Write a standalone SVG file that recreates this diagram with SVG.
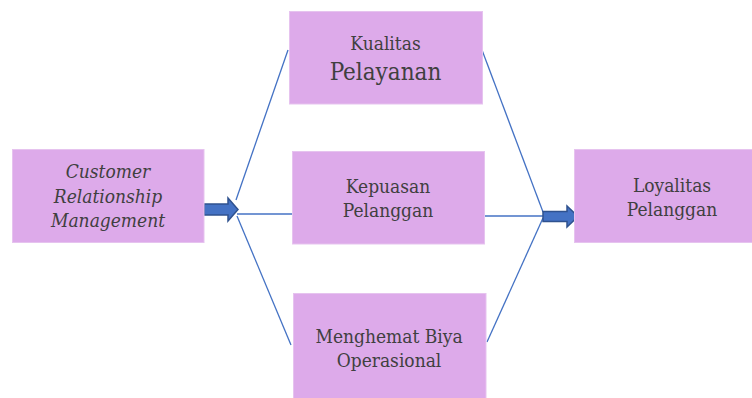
<svg xmlns="http://www.w3.org/2000/svg" width="752" height="398" viewBox="0 0 752 398">
<style>
.box{fill:#DDAAEA;stroke:#E6C3EF;stroke-width:1}
.t{font-family:'DejaVu Serif',serif;font-stretch:condensed;font-size:19px;fill:#404040;text-anchor:middle}
.i{font-style:italic}
.big{font-size:24px}
.ln{stroke:#4472C4;stroke-width:1.3;fill:none}
.arr{fill:#4472C4;stroke:#2F528F;stroke-width:1.5;stroke-linejoin:miter}
</style>
<rect width="752" height="398" fill="#FFFFFF"/>
<g id="connectors">
<line class="ln" x1="236" y1="200" x2="288" y2="50"/>
<line class="ln" x1="237" y1="214" x2="292" y2="214"/>
<line class="ln" x1="237" y1="216" x2="291" y2="345"/>
<line class="ln" x1="482" y1="50" x2="543" y2="212"/>
<line class="ln" x1="484" y1="216" x2="543" y2="216"/>
<line class="ln" x1="487" y1="342" x2="543" y2="218"/>
<polygon class="arr" points="204,204 228,204 228,198 238,209.5 228,221 228,215 204,215"/>
<polygon class="arr" points="543,211.5 567,211.5 567,206 578,216.5 567,227 567,221.5 543,221.5"/>
</g>
<g id="crm">
<rect class="box" x="12.5" y="149.5" width="191.5" height="93"/>
<text class="t i" x="108" y="178">Customer</text>
<text class="t i" x="108" y="203">Relationship</text>
<text class="t i" x="108" y="227">Management</text>
</g>
<g id="kualitas">
<rect class="box" x="289.5" y="11.5" width="193" height="92.5"/>
<text class="t" x="385.5" y="50">Kualitas</text>
<text class="t big" x="385.5" y="80">Pelayanan</text>
</g>
<g id="kepuasan">
<rect class="box" x="292.5" y="151.5" width="192" height="92.5"/>
<text class="t" x="388" y="193">Kepuasan</text>
<text class="t" x="388" y="217">Pelanggan</text>
</g>
<g id="menghemat">
<rect class="box" x="293.5" y="293.5" width="192.5" height="110"/>
<text class="t" x="389" y="343">Menghemat Biya</text>
<text class="t" x="389" y="367">Operasional</text>
</g>
<g id="loyalitas">
<rect class="box" x="574.5" y="149.5" width="185" height="93"/>
<text class="t" x="672" y="192">Loyalitas</text>
<text class="t" x="672" y="216">Pelanggan</text>
</g>
</svg>
